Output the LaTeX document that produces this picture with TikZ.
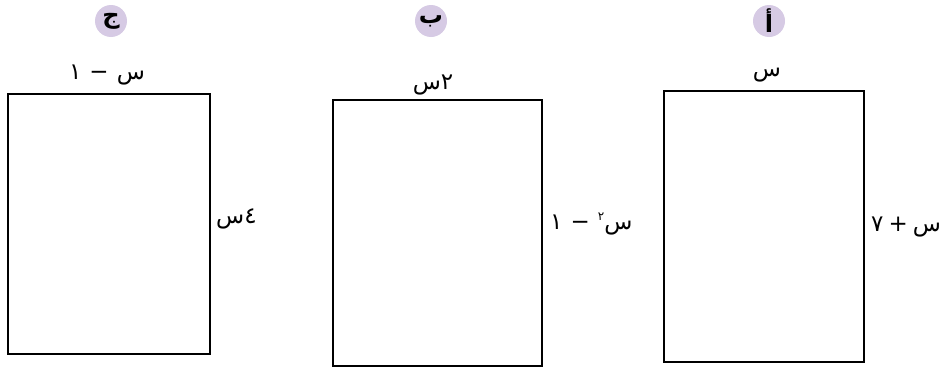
\documentclass[tikz,border=0pt]{standalone}
\usepackage{fontspec}
\newfontfamily\arabicfont[Script=Arabic]{DejaVu Sans}
\TeXXeTstate=1
\definecolor{tagfill}{HTML}{D6CAE4}
\begin{document}
\begin{tikzpicture}[x=1pt,y=-1pt,
  tag/.style={circle,fill=tagfill,minimum size=32pt,inner sep=0pt,
    font=\arabicfont\bfseries\fontsize{24}{24}\selectfont},
  shapebox/.style={draw=black,line width=2pt,rectangle,inner sep=0pt,anchor=north west},
  lbl/.style={font=\arabicfont\fontsize{23}{23}\selectfont,inner sep=0pt}]
\useasboundingbox (0,0) rectangle (942,367);
% tags
\node[tag] (tagC) at (111,21) {\beginR ج\endR};
\node[tag] (tagB) at (431,21) {\beginR ب\endR};
\node[tag] (tagA) at (769,21) {\beginR أ\endR};
% boxes
\node[shapebox,minimum width=202pt,minimum height=260pt] (boxC) at (7,93) {};
\node[shapebox,minimum width=209pt,minimum height=266pt] (boxB) at (332,99) {};
\node[shapebox,minimum width=200pt,minimum height=271pt] (boxA) at (663,90) {};
% top labels
\node[lbl] (topC) at (107,75) {\beginR س\hspace{8pt}−\hspace{8pt}١\endR};
\node[lbl] (topB) at (433,85) {\beginR ٢س\endR};
\node[lbl] (topA) at (767,75) {\beginR س\endR};
% side labels
\node[lbl,anchor=west] (sideC) at (216,219) {\beginR ٤س\endR};
\node[lbl,anchor=west] (sideB) at (550,224) {\beginR س\raisebox{9pt}{\fontsize{12}{12}\selectfont ٢}\hspace{8pt}−\hspace{8pt}١\endR};
\node[lbl,anchor=west] (sideA) at (871,227) {\beginR س\hspace{5pt}+\hspace{5pt}٧\endR};
\end{tikzpicture}
\end{document}
